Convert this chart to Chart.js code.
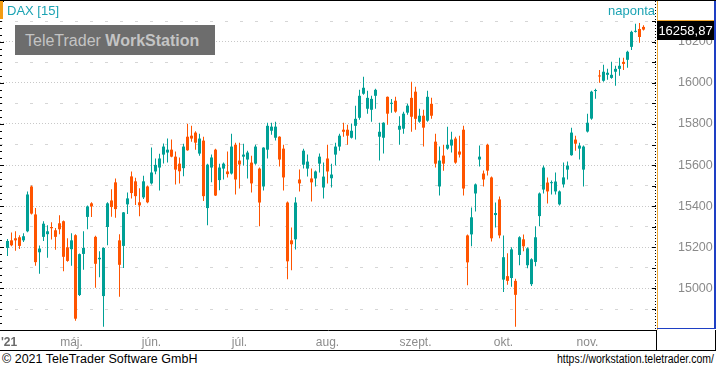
<!DOCTYPE html>
<html>
<head>
<meta charset="utf-8">
<title>DAX [15]</title>
<script src="https://cdn.jsdelivr.net/npm/chart.js@4.4.0/dist/chart.umd.min.js"></script>
<style>
    html, body {
        margin: 0;
        padding: 0;
        background: #fff;
    }

    #frame {
        position: relative;
        width: 716px;
        height: 368px;
        overflow: hidden;
        font-family: 'Liberation Sans', Arial, sans-serif;
    }

    #plot {
        position: absolute;
        left: 0;
        top: 0;
    }

    .caption {
        position: absolute;
        top: 3px;
        color: #1ba3b3;
        font-size: 13px;
        line-height: 15px;
        white-space: nowrap;
    }

    #marker {
        position: absolute;
        left: 0;
        top: 1px;
        width: 3px;
        height: 18px;
        background: #f39c12;
    }

    #brand {
        position: absolute;
        left: 15px;
        top: 25px;
        width: 200px;
        height: 30px;
        padding-left: 10px;
        box-sizing: border-box;
        background: #6d6d6d;
        color: #c4c4c4;
        font-size: 16px;
        line-height: 31px;
        white-space: nowrap;
    }

    .foot {
        position: absolute;
        top: 351px;
        font-size: 12.5px;
        line-height: 16px;
        color: #000;
        white-space: nowrap;
    }

    #url {
        right: 2px;
        font-size: 12.5px;
        transform: scaleX(0.84);
        transform-origin: right center;
    }
</style>
</head>
<body>
<div id="frame">
    <canvas id="plot" width="716" height="351"></canvas>
    <div id="marker"></div>
    <div class="caption" style="left: 7px;">DAX [15]</div>
    <div class="caption" style="left: 608px;">naponta</div>
    <div id="brand">TeleTrader <b>WorkStation</b></div>
    <div class="foot" style="left: 2px;">© 2021 TeleTrader Software GmbH</div>
    <div class="foot" id="url">https://workstation.teletrader.com/</div>
</div>

<script>
    // daily DAX candles, 9 Apr 2021 - 19 Nov 2021 (no session on 24 May)
    const opens = [15197, 15234, 15244, 15249, 15234, 15278, 15496, 15360, 15176, 15251,
        15264, 15299, 15283, 15317, 15327, 15200, 15191, 15259, 14968, 15168,
        15348, 15414, 15251, 15142, 14963, 15299, 15428, 15516, 15234, 15207,
        15409, 15545, 15521, 15419, 15443, 15496, 15511, 15569, 15588, 15651,
        15661, 15675, 15641, 15607, 15585, 15738, 15743, 15758, 15656, 15719,
        15391, 15588, 15675, 15527, 15583, 15569, 15559, 15699, 15622, 15641,
        15627, 15612, 15607, 15583, 15496, 15675, 15767, 15733, 15738, 15680,
        15418, 15234, 15239, 15530, 15602, 15583, 15535, 15535, 15607, 15491,
        15632, 15536, 15651, 15690, 15772, 15772, 15733, 15791, 15830, 15947,
        15874, 15869, 15937, 15738, 15733, 15932, 15898, 15913, 15772, 15777,
        15855, 15927, 15957, 15811, 15840, 15816, 15898, 15714, 15496, 15646,
        15680, 15695, 15729, 15666, 15772, 15258, 15263, 15462, 15627, 15559,
        15699, 15540, 15357, 15433, 15043, 15060, 15051, 15037, 15163, 15239,
        15113, 15021, 15129, 15352, 15481, 15515, 15512, 15472, 15409, 15506,
        15578, 15648, 15724, 15680, 15578, 15763, 15826, 15960, 16034, 16010,
        16039, 16024, 16054, 16068, 16102, 16112, 16175, 16248, 16262, 16272];

    const highs = [15241, 15272, 15278, 15259, 15268, 15472, 15501, 15391, 15209, 15327,
        15307, 15322, 15294, 15356, 15331, 15244, 15268, 15264, 15170, 15278,
        15404, 15419, 15256, 15181, 15200, 15419, 15482, 15535, 15264, 15372,
        15467, 15569, 15538, 15487, 15548, 15501, 15685, 15632, 15655, 15705,
        15729, 15724, 15666, 15637, 15704, 15801, 15791, 15764, 15753, 15738,
        15607, 15651, 15680, 15607, 15612, 15666, 15753, 15709, 15709, 15704,
        15670, 15646, 15699, 15588, 15687, 15806, 15806, 15811, 15740, 15699,
        15423, 15297, 15443, 15578, 15680, 15651, 15583, 15574, 15656, 15612,
        15699, 15607, 15709, 15753, 15806, 15796, 15801, 15889, 15966, 16030,
        15962, 15937, 15971, 15806, 15808, 15934, 15922, 15932, 15838, 15860,
        15898, 16005, 15981, 15874, 15869, 15962, 15927, 15753, 15690, 15699,
        15787, 15762, 15738, 15743, 15791, 15263, 15394, 15510, 15695, 15574,
        15704, 15544, 15418, 15447, 15258, 15171, 15200, 15047, 15254, 15263,
        15200, 15147, 15302, 15467, 15598, 15540, 15525, 15564, 15477, 15613,
        15617, 15782, 15743, 15709, 15695, 15850, 15962, 15971, 16063, 16088,
        16068, 16102, 16083, 16122, 16122, 16156, 16253, 16287, 16291, 16280];

    const lows = [15158, 15205, 15183, 15192, 15226, 15273, 15360, 15110, 15071, 15231,
        15149, 15238, 15188, 15264, 15084, 15130, 15110, 14843, 14963, 15091,
        15288, 15348, 15003, 15055, 14814, 15210, 15349, 15344, 14960, 15100,
        15362, 15438, 15406, 15351, 15435, 15414, 15506, 15556, 15477, 15608,
        15613, 15638, 15506, 15510, 15546, 15670, 15714, 15675, 15646, 15425,
        15308, 15516, 15450, 15478, 15530, 15540, 15554, 15457, 15486, 15598,
        15535, 15467, 15602, 15302, 15476, 15632, 15748, 15719, 15593, 15477,
        15045, 15089, 15190, 15472, 15583, 15544, 15423, 15496, 15564, 15438,
        15511, 15491, 15598, 15670, 15738, 15699, 15729, 15724, 15820, 15942,
        15850, 15811, 15874, 15622, 15656, 15796, 15855, 15855, 15699, 15753,
        15845, 15762, 15772, 15806, 15690, 15811, 15825, 15588, 15452, 15573,
        15675, 15661, 15607, 15637, 15452, 15016, 15205, 15374, 15593, 15496,
        15549, 15229, 15297, 15244, 14983, 15018, 15008, 14814, 15113, 15181,
        15098, 15012, 15108, 15302, 15462, 15413, 15457, 15457, 15404, 15491,
        15530, 15646, 15670, 15627, 15496, 15758, 15821, 15923, 16000, 16005,
        16015, 16020, 15986, 16034, 16063, 16073, 16160, 16245, 16195, 16255];

    const closes = [15231, 15210, 15234, 15207, 15254, 15457, 15364, 15128, 15194, 15315,
        15278, 15293, 15251, 15288, 15154, 15134, 15234, 14853, 15167, 15197,
        15399, 15399, 15120, 15149, 15197, 15414, 15396, 15386, 15115, 15370,
        15438, 15464, 15449, 15404, 15521, 15419, 15564, 15601, 15632, 15690,
        15675, 15641, 15578, 15570, 15690, 15672, 15729, 15709, 15729, 15449,
        15602, 15637, 15452, 15588, 15607, 15556, 15690, 15530, 15603, 15651,
        15661, 15511, 15690, 15418, 15685, 15791, 15787, 15787, 15627, 15540,
        15132, 15215, 15418, 15511, 15670, 15617, 15516, 15569, 15641, 15544,
        15569, 15554, 15690, 15743, 15762, 15743, 15767, 15825, 15937, 15976,
        15927, 15922, 15966, 15762, 15806, 15850, 15903, 15860, 15791, 15850,
        15889, 15835, 15825, 15840, 15782, 15932, 15840, 15607, 15622, 15607,
        15699, 15724, 15612, 15651, 15486, 15127, 15346, 15506, 15641, 15530,
        15573, 15244, 15367, 15258, 15152, 15037, 15190, 14969, 15249, 15205,
        15195, 15142, 15249, 15462, 15588, 15472, 15517, 15520, 15472, 15540,
        15598, 15758, 15704, 15695, 15690, 15806, 15957, 15965, 16031, 16054,
        16049, 16039, 16068, 16083, 16092, 16151, 16248, 16253, 16223, 16258.87];

    const monthNames = ['jan.', 'febr.', 'márc.', 'ápr.', 'máj.', 'jún.',
        'júl.', 'aug.', 'szept.', 'okt.', 'nov.', 'dec.'];
    const yearLabel = "'21";
    const priceTicks = [15000, 15200, 15400, 15600, 15800, 16000, 16200];
    const halfTicks = [14900, 15100, 15300, 15500, 15700, 15900, 16100, 16300];

    const UP = '#00a096';
    const DOWN = '#ff5400';

    // trading days
    const closedDays = ['2021-05-24'];
    const days = [];
    for (let d = new Date(Date.UTC(2021, 3, 9)); d <= new Date(Date.UTC(2021, 10, 19)); d.setUTCDate(d.getUTCDate() + 1)) {
        const iso = d.toISOString().slice(0, 10);
        if (d.getUTCDay() === 0 || d.getUTCDay() === 6 || closedDays.includes(iso)) continue;
        days.push(iso);
    }

    // first trading day of every month gets a label
    const dayTicks = [{ value: 0.4, label: yearLabel }];
    days.forEach(function (iso, i) {
        if (i > 0 && iso.slice(5, 7) !== days[i - 1].slice(5, 7)) {
            dayTicks.push({ value: i, label: monthNames[parseInt(iso.slice(5, 7), 10) - 1] });
        }
    });

    function candleColor(ctx) {
        const i = ctx.dataIndex;
        return closes[i] >= opens[i] ? UP : DOWN;
    }

    const frameDecor = {
        id: 'frameDecor',
        afterDraw: function (chart) {
            const ctx = chart.ctx;
            const area = chart.chartArea;
            const y = chart.scales.y;
            ctx.save();

            // left edge ruler
            ctx.fillStyle = '#000';
            for (let k = 0; k <= 48; k++) {
                const py = Math.round(y.getPixelForValue(14800 + k * 200 / 6));
                if (py < area.top || py > area.bottom) continue;
                ctx.fillRect(0, py, k % 6 === 0 ? 4 : 2, 1);
            }

            // dotted ruler next to price axis
            for (let py = area.top; py < area.bottom; py += 3) {
                ctx.fillRect(655, py, 1, 1);
            }
            for (let v = 14900; v <= 16300; v += 100) {
                ctx.fillRect(652, Math.round(y.getPixelForValue(v)), 4, 1);
            }

            // price axis frame
            ctx.fillStyle = '#f0a830';
            ctx.fillRect(657, 0, 1, area.bottom);
            ctx.fillStyle = '#1e3fc4';
            ctx.fillRect(714, 0, 2, 329);
            ctx.fillRect(657, 328, 59, 1);

            // outer lines
            ctx.fillStyle = '#000';
            ctx.fillRect(0, 0, 716, 1);
            ctx.fillRect(0, 350, 716, 1);
            ctx.fillRect(656, area.bottom, 1, 21);
            ctx.fillRect(715, area.bottom, 1, 21);

            // last price box
            const last = closes[closes.length - 1];
            const py = Math.round(y.getPixelForValue(last));
            ctx.fillStyle = '#000';
            ctx.fillRect(657, py - 10, 57, 20);
            ctx.fillStyle = '#f0a830';
            ctx.fillRect(657, py - 10, 57, 1);
            ctx.fillStyle = '#fff';
            ctx.font = "13px 'Liberation Sans', Arial, sans-serif";
            ctx.textAlign = 'center';
            ctx.textBaseline = 'middle';
            ctx.fillText(last.toFixed(2).replace('.', ','), 685.5, py + 1);

            ctx.restore();
        }
    };

    const idx = closes.map(function (c, i) { return i; });

    const data = {
        datasets: [{
            label: 'High-Low',
            data: idx.map(function (i) { return { x: i, y: [lows[i], highs[i]] }; }),
            backgroundColor: candleColor,
            barThickness: 1,
            grouped: false,
            inflateAmount: 0,
            borderWidth: 0,
            order: 2
        }, {
            label: 'Open-Close',
            data: idx.map(function (i) { return { x: i, y: [opens[i], closes[i]] }; }),
            backgroundColor: candleColor,
            barThickness: 3,
            minBarLength: 1,
            grouped: false,
            inflateAmount: 0,
            borderWidth: 0,
            order: 1
        }]
    };

    const config = {
        type: 'bar',
        data: data,
        options: {
            responsive: false,
            animation: false,
            events: [],
            layout: { padding: { top: 1, left: 0, right: 0, bottom: 0 } },
            font: { family: "'Liberation Sans', Arial, sans-serif" },
            plugins: {
                legend: { display: false },
                tooltip: { enabled: false }
            },
            scales: {
                x: {
                    type: 'linear',
                    bounds: 'data',
                    offset: false,
                    min: -1.875,
                    max: 162.125,
                    grid: { display: false, offset: false },
                    border: { display: true, color: '#000', width: 1 },
                    afterBuildTicks: function (scale) {
                        scale.ticks = dayTicks.map(function (t) { return { value: t.value }; });
                    },
                    afterFit: function (scale) {
                        scale.height = 21;
                        scale.paddingLeft = 0;
                        scale.paddingRight = 0;
                    },
                    ticks: {
                        autoSkip: false,
                        maxRotation: 0,
                        padding: -3,
                        callback: function (value, index) { return dayTicks[index].label; },
                        color: function (ctx) { return ctx.index === 0 ? '#6a6a6a' : '#8c8c8c'; },
                        font: function (ctx) {
                            return ctx.index === 0 ? { size: 12, weight: 'bold' } : { size: 12 };
                        }
                    }
                },
                y: {
                    position: 'right',
                    bounds: 'data',
                    min: 14798,
                    max: 16398,
                    afterBuildTicks: function (scale) {
                        scale.ticks = priceTicks.map(function (v) { return { value: v }; });
                    },
                    afterFit: function (scale) {
                        scale.width = 60;
                        scale.paddingTop = 0;
                        scale.paddingBottom = 0;
                    },
                    grid: { color: '#c8c8c8', lineWidth: 1, drawTicks: false },
                    border: { display: false, dash: [1, 2] },
                    ticks: {
                        padding: 22,
                        crossAlign: 'near',
                        color: '#8a8a8a',
                        font: { size: 12.5 },
                        callback: function (value) { return String(value); }
                    }
                },
                yHalf: {
                    position: 'left',
                    bounds: 'data',
                    min: 14798,
                    max: 16398,
                    afterBuildTicks: function (scale) {
                        scale.ticks = halfTicks.map(function (v) { return { value: v }; });
                    },
                    afterFit: function (scale) {
                        scale.width = 0;
                        scale.paddingTop = 0;
                        scale.paddingBottom = 0;
                    },
                    grid: { color: '#d6d6d6', lineWidth: 1, drawTicks: false },
                    border: { display: false, dash: [3, 12] },
                    ticks: { display: false }
                }
            }
        },
        plugins: [frameDecor]
    };

    const daxChart = new Chart(
        document.getElementById('plot'),
        config
    );
</script>
</body>
</html>
